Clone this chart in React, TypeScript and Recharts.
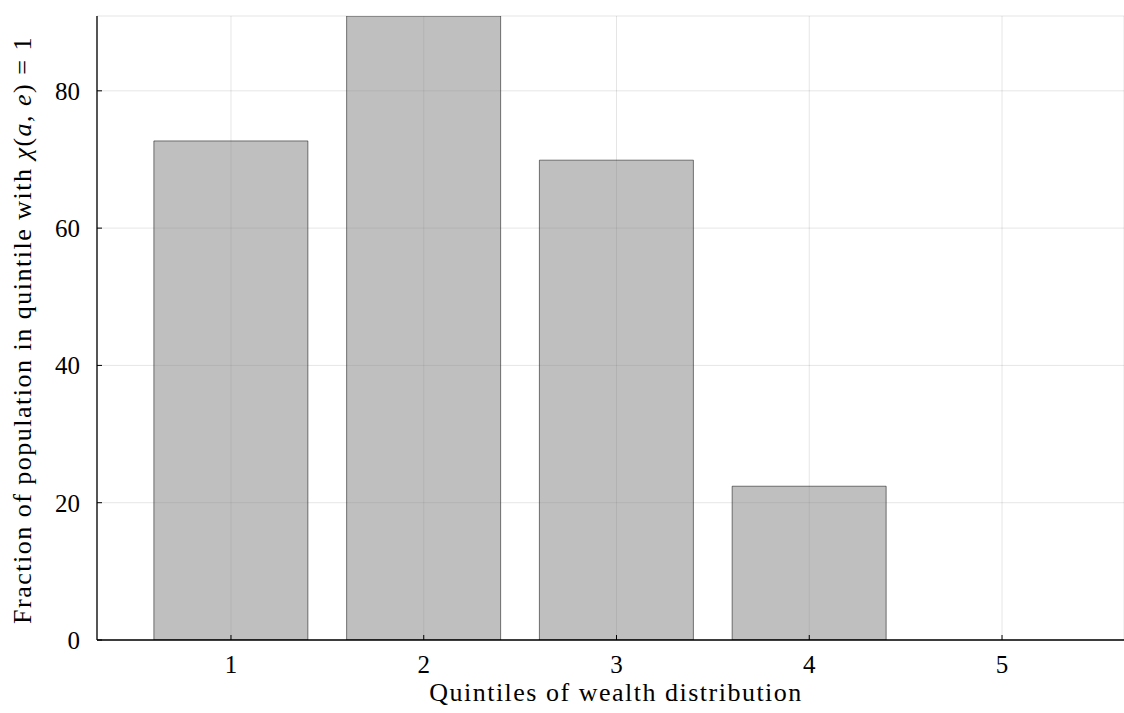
// Fraction of population with chi(a,e)=1, by wealth quintile
import { BarChart, Bar, XAxis, YAxis, CartesianGrid } from 'recharts';

const QUINTILES = ['1', '2', '3', '4', '5'];
const SHARE = [72.7, 90.9, 69.9, 22.4, 0];
const Y_TICKS = [0, 20, 40, 60, 80];

const FONT = '"Liberation Serif", "DejaVu Serif", serif';

const data = QUINTILES.map((q, i) => ({ quintile: q, share: SHARE[i] }));

const YLabel = () => (
  <text
    transform="translate(31, 330) rotate(-90)"
    textAnchor="middle"
    fontFamily={FONT}
    fontSize={26}
    letterSpacing={1.5}
    fill="#000"
  >
    Fraction of population in quintile with <tspan fontStyle="italic">χ</tspan>(<tspan fontStyle="italic">a</tspan>, <tspan fontStyle="italic">e</tspan>) = 1
  </text>
);

const XLabel = () => (
  <text
    x={616}
    y={701}
    textAnchor="middle"
    fontFamily={FONT}
    fontSize={26}
    letterSpacing={1.5}
    fill="#000"
  >
    Quintiles of wealth distribution
  </text>
);

export default function App() {
  return (
    <div style={{ position: 'absolute', left: 0, top: 0, background: '#fff' }}>
      <BarChart
        width={1124}
        height={713}
        data={data}
        margin={{ top: 16, right: 0, bottom: 0, left: 0 }}
        barCategoryGap="10%"
      >
        <CartesianGrid stroke="#000" strokeOpacity={0.1} strokeWidth={1} />
        <XAxis
          dataKey="quintile"
          padding={{ left: 37.6, right: 25.6 }}
          height={73}
          axisLine={{ stroke: '#000', strokeWidth: 1.3 }}
          tickLine={{ stroke: '#000' }}
          tickSize={-5}
          tickMargin={20}
          tick={{ fill: '#000', fontFamily: FONT, fontSize: 25 }}
          label={{ content: <XLabel /> }}
        />
        <YAxis
          width={97}
          domain={[0, 90.9]}
          ticks={Y_TICKS}
          allowDataOverflow
          axisLine={{ stroke: '#000', strokeWidth: 1.3 }}
          tickLine={{ stroke: '#000' }}
          tickSize={-5}
          tickMargin={22}
          tick={{ fill: '#000', fontFamily: FONT, fontSize: 25 }}
          label={{ content: <YLabel /> }}
        />
        <Bar
          dataKey="share"
          fill="#808080"
          fillOpacity={0.5}
          stroke="#000"
          strokeOpacity={0.5}
          strokeWidth={1}
          isAnimationActive={false}
        />
      </BarChart>
    </div>
  );
}
